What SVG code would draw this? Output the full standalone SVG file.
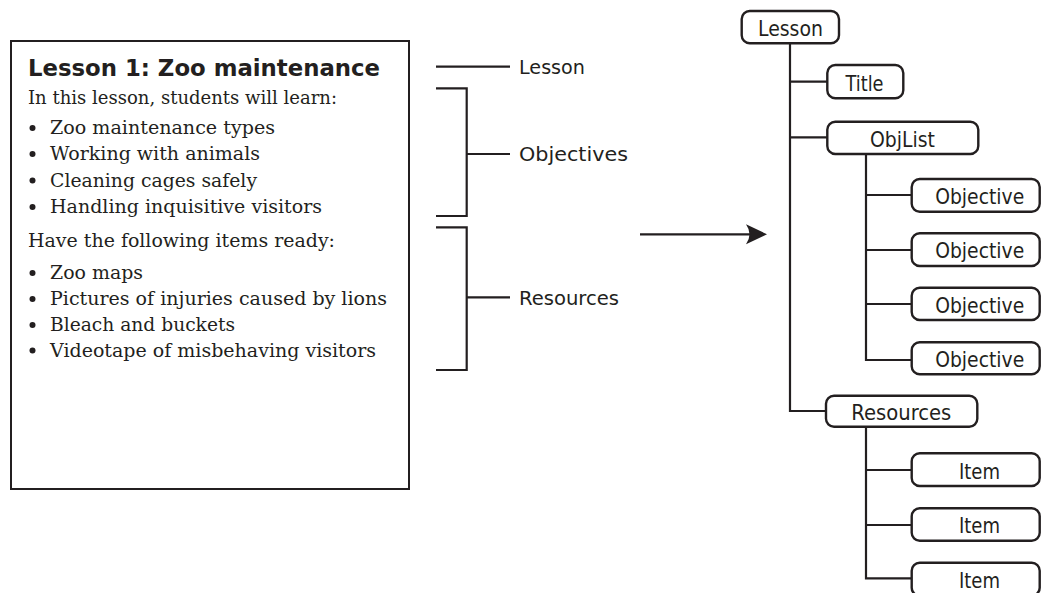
<svg xmlns="http://www.w3.org/2000/svg" width="1041" height="593" viewBox="0 0 1041 593">
<style>
.ln{stroke:#231f20;stroke-width:2.2;fill:none}
.box{fill:#fff;stroke:#231f20;stroke-width:2.4}
.title{font-family:"DejaVu Sans",sans-serif;font-weight:bold;font-size:23px;fill:#231f20}
.body{font-family:"DejaVu Serif","Liberation Serif",serif;font-size:18.5px;fill:#231f20}
.hand{font-family:"DejaVu Sans",sans-serif;font-size:20px;fill:#231f20}
.node{font-family:"DejaVu Sans Condensed","DejaVu Sans",sans-serif;font-stretch:condensed;font-size:21.5px;fill:#231f20;text-anchor:middle}
.dot{fill:#231f20}
</style>
<g id="lesson-card">
<rect x="11" y="41" width="398" height="448" fill="#fff" stroke="#231f20" stroke-width="2"/>
<text class="title" x="28" y="76" textLength="352" lengthAdjust="spacingAndGlyphs">Lesson 1: Zoo maintenance</text>
<text class="body" x="28" y="104" textLength="309" lengthAdjust="spacingAndGlyphs">In this lesson, students will learn:</text>
<circle class="dot" cx="32.5" cy="128" r="3"/>
<text class="body" x="50" y="134" textLength="225" lengthAdjust="spacingAndGlyphs">Zoo maintenance types</text>
<circle class="dot" cx="32.5" cy="154" r="3"/>
<text class="body" x="50" y="160" textLength="210" lengthAdjust="spacingAndGlyphs">Working with animals</text>
<circle class="dot" cx="32.5" cy="180.5" r="3"/>
<text class="body" x="50" y="186.5" textLength="207" lengthAdjust="spacingAndGlyphs">Cleaning cages safely</text>
<circle class="dot" cx="32.5" cy="207" r="3"/>
<text class="body" x="50" y="213" textLength="272" lengthAdjust="spacingAndGlyphs">Handling inquisitive visitors</text>
<text class="body" x="28" y="246.5" textLength="307" lengthAdjust="spacingAndGlyphs">Have the following items ready:</text>
<circle class="dot" cx="32.5" cy="273" r="3"/>
<text class="body" x="50" y="279" textLength="93" lengthAdjust="spacingAndGlyphs">Zoo maps</text>
<circle class="dot" cx="32.5" cy="299" r="3"/>
<text class="body" x="50" y="305" textLength="337" lengthAdjust="spacingAndGlyphs">Pictures of injuries caused by lions</text>
<circle class="dot" cx="32.5" cy="325" r="3"/>
<text class="body" x="50" y="331" textLength="185" lengthAdjust="spacingAndGlyphs">Bleach and buckets</text>
<circle class="dot" cx="32.5" cy="350.5" r="3"/>
<text class="body" x="50" y="356.5" textLength="326" lengthAdjust="spacingAndGlyphs">Videotape of misbehaving visitors</text>
</g>
<g id="labels">
<text class="hand" x="519" y="74" textLength="66" lengthAdjust="spacingAndGlyphs">Lesson</text>
<text class="hand" x="519" y="161" textLength="109" lengthAdjust="spacingAndGlyphs">Objectives</text>
<text class="hand" x="519" y="305" textLength="100" lengthAdjust="spacingAndGlyphs">Resources</text>
</g>
<g id="connectors">
<path class="ln" d="M436,66.7H510"/>
<path class="ln" d="M436,88.3H466.7V216H436M466.7,154H510"/>
<path class="ln" d="M436,227.3H466.7V370H436M466.7,297.3H510"/>
<path class="ln" d="M640,234.3H752"/>
<path fill="#231f20" d="M767,234.3L746,224.3Q753,234.3 746,244.3Z"/>
<path class="ln" d="M790,43V411H827M790,81.7H828M790,137.3H828"/>
<path class="ln" d="M866,154V360H912M866,195H912M866,250H912M866,304H912"/>
<path class="ln" d="M866,427V578.3H912M866,470H912M866,525H912"/>
</g>
<g id="n-lesson"><rect class="box" x="741.7" y="11" width="97.3" height="32.3" rx="8"/><text class="node" x="790.5" y="36" textLength="65" lengthAdjust="spacingAndGlyphs">Lesson</text></g>
<g id="n-title"><rect class="box" x="827.3" y="65" width="76" height="33.3" rx="8"/><text class="node" x="864.5" y="90.5" textLength="38" lengthAdjust="spacingAndGlyphs">Title</text></g>
<g id="n-objlist"><rect class="box" x="827.3" y="121.7" width="151" height="32.3" rx="8"/><text class="node" x="902.5" y="147" textLength="65" lengthAdjust="spacingAndGlyphs">ObjList</text></g>
<g id="n-obj1"><rect class="box" x="911.7" y="179" width="128" height="32.7" rx="8"/><text class="node" x="979.7" y="204" textLength="89" lengthAdjust="spacingAndGlyphs">Objective</text></g>
<g id="n-obj2"><rect class="box" x="911.7" y="233.3" width="128" height="32.7" rx="8"/><text class="node" x="979.7" y="258.3" textLength="89" lengthAdjust="spacingAndGlyphs">Objective</text></g>
<g id="n-obj3"><rect class="box" x="911.7" y="287.7" width="128" height="32.3" rx="8"/><text class="node" x="979.7" y="312.5" textLength="89" lengthAdjust="spacingAndGlyphs">Objective</text></g>
<g id="n-obj4"><rect class="box" x="911.7" y="342.3" width="128" height="32" rx="8"/><text class="node" x="979.7" y="367" textLength="89" lengthAdjust="spacingAndGlyphs">Objective</text></g>
<g id="n-resources"><rect class="box" x="826" y="395.7" width="151.3" height="31" rx="8"/><text class="node" x="901.3" y="420" textLength="100" lengthAdjust="spacingAndGlyphs">Resources</text></g>
<g id="n-item1"><rect class="box" x="911.7" y="453.3" width="128" height="32.7" rx="8"/><text class="node" x="979.5" y="478.5" textLength="41" lengthAdjust="spacingAndGlyphs">Item</text></g>
<g id="n-item2"><rect class="box" x="911.7" y="508.3" width="128" height="32.4" rx="8"/><text class="node" x="979.5" y="533.3" textLength="41" lengthAdjust="spacingAndGlyphs">Item</text></g>
<g id="n-item3"><rect class="box" x="911.7" y="562.7" width="128" height="33" rx="8"/><text class="node" x="979.5" y="587.5" textLength="41" lengthAdjust="spacingAndGlyphs">Item</text></g>
</svg>
